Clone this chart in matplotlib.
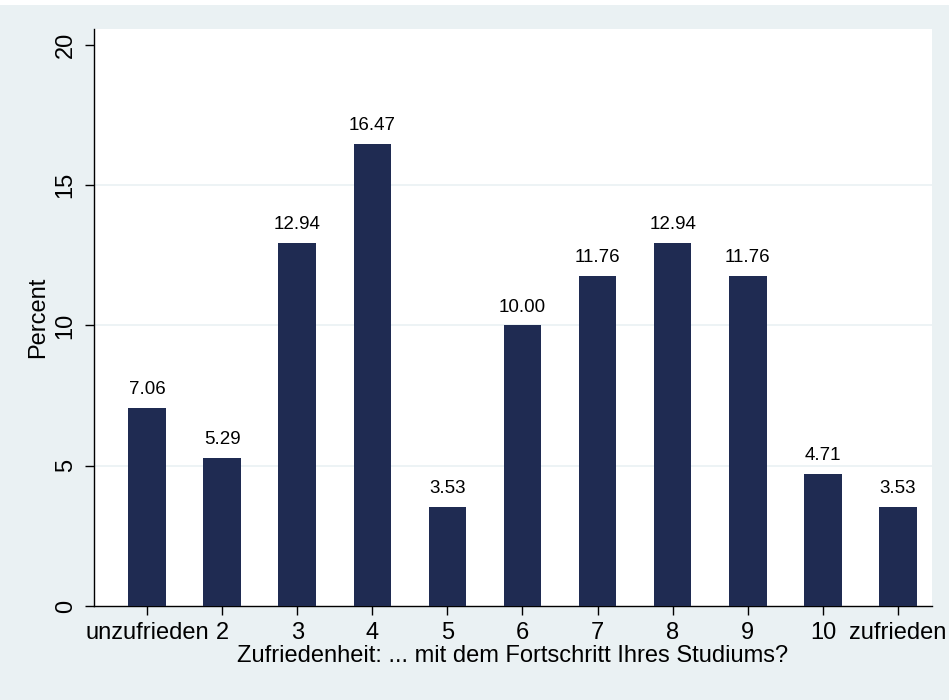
import matplotlib
matplotlib.use("Agg")
import matplotlib.pyplot as plt
import matplotlib.patches as mpatches

categories = ["unzufrieden", "2", "3", "4", "5", "6", "7", "8", "9", "10", "zufrieden"]
percent = [7.06, 5.29, 12.94, 16.47, 3.53, 10.00, 11.76, 12.94, 11.76, 4.71, 3.53]
yticks = [0, 5, 10, 15, 20]
xlabel = "Zufriedenheit: ... mit dem Fortschritt Ihres Studiums?"
ylabel = "Percent"

plt.rcParams['font.family'] = ['Liberation Sans', 'DejaVu Sans']

BG = "#EAF1F3"
BAR = "#1F2B52"

fig = plt.figure(figsize=(9.49, 7.00), dpi=100)
fig.patch.set_facecolor(BG)
# thin white strip at the top
fig.add_artist(mpatches.Rectangle((0, 1 - 5/700), 1, 5/700, transform=fig.transFigure,
                                  facecolor="white", edgecolor="none", zorder=0))

ax = fig.add_axes([94/949, 94/700, (932-94)/949, (606-29)/700])
ax.set_facecolor("white")

x = list(range(len(categories)))
ax.bar(x, percent, width=0.5, color=BAR, zorder=3)

for xi, v in zip(x, percent):
    ax.annotate(f"{v:.2f}", (xi, v), xytext=(0, 10), textcoords="offset points",
                ha="center", va="baseline", fontsize=13.5, color="black", zorder=4)

ax.set_xlim(-0.706, 10.453)
ax.set_ylim(0, 20.57)
ax.set_xticks(x)
ax.set_xticklabels(categories, fontsize=17)
ax.set_yticks(yticks)
ax.set_yticklabels([str(t) for t in yticks], fontsize=17, rotation=90, va="center")

for t in [5, 10, 15]:
    ax.axhline(t, color=BG, lw=1.2, zorder=1)

for s in ["top", "right"]:
    ax.spines[s].set_visible(False)
for s in ["left", "bottom"]:
    ax.spines[s].set_linewidth(1.0)
    ax.spines[s].set_color("black")

ax.tick_params(axis="both", direction="out", length=6.5, width=1.0, color="black")
ax.tick_params(axis="x", pad=5)
ax.tick_params(axis="y", pad=6)

ax.set_xlabel(xlabel, fontsize=17, labelpad=1)
ax.set_ylabel(ylabel, fontsize=17, labelpad=4)

fig.savefig("out.png", dpi=100, facecolor=fig.get_facecolor())
